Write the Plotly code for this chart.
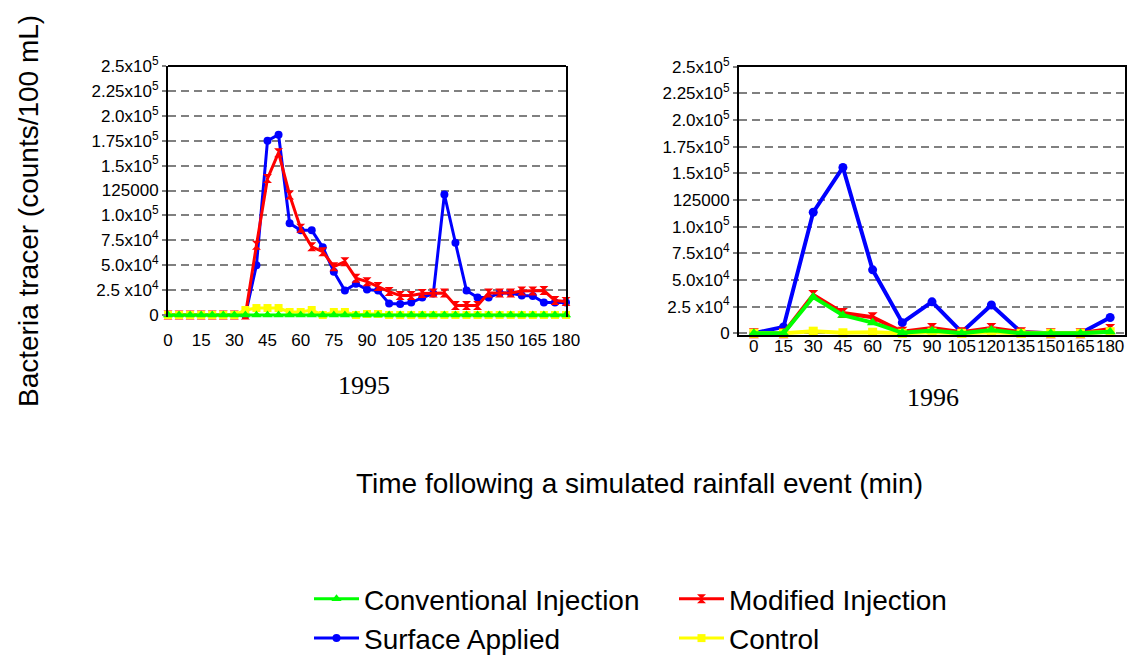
import plotly.graph_objects as go

# ---------------- data ----------------
time_1995 = [0, 5, 10, 15, 20, 25, 30, 35, 40, 45, 50, 55, 60, 65, 70, 75, 80, 85, 90,
             95, 100, 105, 110, 115, 120, 125, 130, 135, 140, 145, 150, 155, 160, 165,
             170, 175, 180]
surface_1995 = [0, 0, 0, 0, 0, 0, 0, 0, 50000, 175000, 181000, 92000, 85000, 85000, 68000,
                43500, 24500, 31500, 25500, 24500, 11500, 11000, 12500, 17500, 21500,
                121000, 72500, 24500, 17500, 17500, 22000, 22000, 19500, 19000, 12500,
                12500, 12500]
modified_1995 = [0, 0, 0, 0, 0, 0, 0, 0, 70000, 137000, 163000, 120500, 87000, 68500, 63500,
                 48500, 53500, 37000, 33500, 28500, 23500, 19500, 19500, 21500, 22000,
                 22000, 9500, 9500, 9500, 22000, 22000, 22000, 24000, 24000, 24500, 14500,
                 13500]
control_1995 = [0, 0, 0, 0, 0, 0, 0, 5000, 7000, 7000, 7000, 3000, 3000, 5000, 0, 3000, 3000,
                0, 1000, 1000, 0, 0, 0, 0, 0, 0, 0, 0, 0, 0, 0, 0, 0, 0, 0, 0, 0]
conventional_1995 = [0, 0, 0, 0, 0, 0, 0, 0, 0, 0, 0, 0, 0, 0, 0, 0, 0, 0, 0, 0, 0, 0, 0, 0,
                     0, 0, 0, 0, 0, 0, 0, 0, 0, 0, 0, 0, 0]

time_1996 = [0, 15, 30, 45, 60, 75, 90, 105, 120, 135, 150, 165, 180]
surface_1996 = [0, 6000, 113500, 155500, 59500, 10000, 29500, 1000, 26500, 1000, 0, 0, 14800]
modified_1996 = [0, 0, 36000, 19000, 15000, 1500, 5000, 1000, 5000, 1000, 0, 0, 4000]
control_1996 = [0, 0, 2000, 500, 1000, 0, 1000, 0, 1000, 0, 0, 0, 1500]
conventional_1996 = [0, 0, 34000, 17000, 10000, 500, 2500, 0, 3000, 0, 0, 0, 1500]

x_ticks = [0, 15, 30, 45, 60, 75, 90, 105, 120, 135, 150, 165, 180]
y_ticks = [0, 25000, 50000, 75000, 100000, 125000, 150000, 175000, 200000, 225000, 250000]
y_tick_labels = ["0", "2.5 x10<sup>4</sup>", "5.0x10<sup>4</sup>", "7.5x10<sup>4</sup>",
                 "1.0x10<sup>5</sup>", "125000", "1.5x10<sup>5</sup>", "1.75x10<sup>5</sup>",
                 "2.0x10<sup>5</sup>", "2.25x10<sup>5</sup>", "2.5x10<sup>5</sup>"]

# ---------------- styles ----------------
BLUE, RED, YELLOW, GREEN = "#0000FF", "#FF0000", "#FFFF00", "#00FF00"
FONT = "Liberation Sans, Arial, sans-serif"

series = [
    # name, colour, symbol, size, legendrank, data1995, data1996
    ("Surface Applied", BLUE, "circle", 8, 3, surface_1995, surface_1996),
    ("Modified Injection", RED, "hourglass", 9, 2, modified_1995, modified_1996),
    ("Control", YELLOW, "square", 8, 4, control_1995, control_1996),
    ("Conventional Injection", GREEN, "triangle-up", 9, 1, conventional_1995, conventional_1996),
]

fig = go.Figure()
for name, col, sym, size, rank, d95, d96 in series:
    fig.add_trace(go.Scatter(
        x=time_1995, y=d95, name=name, mode="lines+markers", cliponaxis=False,
        line=dict(color=col, width=3), marker=dict(color=col, symbol=sym, size=size),
        xaxis="x", yaxis="y", legendrank=rank, showlegend=True))
for name, col, sym, size, rank, d95, d96 in series:
    fig.add_trace(go.Scatter(
        x=time_1996, y=d96, name=name, mode="lines+markers", cliponaxis=False,
        line=dict(color=col, width=4), marker=dict(color=col, symbol=sym, size=size + 1),
        xaxis="x2", yaxis="y2", showlegend=False))

W, H, ML = 1129, 660, 100
PW = W - ML


def px(x):
    return (x - ML) / PW


def py(y):
    return 1 - y / H


yaxis_common = dict(
    tickmode="array", tickvals=y_ticks, ticktext=y_tick_labels,
    showgrid=True, gridcolor="#808080", gridwidth=2, griddash="8px,5px",
    zeroline=False, showline=True, linecolor="black", linewidth=2, mirror=True,
    ticks="outside", ticklen=4, tickwidth=2, tickcolor="#808080", automargin=False,
    tickfont=dict(family=FONT, size=17, color="black"),
)
xaxis_common = dict(
    tickmode="array", tickvals=x_ticks, showgrid=False, zeroline=False, tickangle=0,
    automargin=False, tickfont=dict(family=FONT, size=17, color="black"),
)

# small extension below zero so the zero-level lines are not clipped
LOW1, LOW2 = -2500, -2000
left_bottom = 315 + 2500 / 250000 * 249
right_bottom = 333.3 + 2000 / 250000 * 266.6

ann_font = dict(family=FONT, size=28, color="black")
year_font = dict(family="Liberation Serif, Times New Roman, serif", size=26, color="black")

fig.update_layout(
    width=W, height=H, margin=dict(l=ML, r=0, t=0, b=0, autoexpand=False),
    paper_bgcolor="white", plot_bgcolor="white",
    xaxis=dict(domain=[px(168), px(566)], range=[0, 180], anchor="y", showline=False,
               ticks="outside", ticklen=7, tickcolor="rgba(0,0,0,0)", **xaxis_common),
    yaxis=dict(domain=[py(left_bottom), py(66)], range=[LOW1, 250000], anchor="x",
               **yaxis_common),
    xaxis2=dict(domain=[px(739), px(1125)], range=[-7.5, 187.5], anchor="y2",
                showline=True, linecolor="black", linewidth=2, mirror=True,
                ticks="", ticklabelstandoff=-6, **xaxis_common),
    yaxis2=dict(domain=[py(right_bottom), py(66.7)], range=[LOW2, 250000], anchor="x2",
                **yaxis_common),
    shapes=[dict(type="line", xref="x domain", yref="y domain", x0=0, x1=1, y0=1, y1=1,
                 line=dict(color="black", width=2))],
    legend=dict(orientation="h", x=px(309), xanchor="left", y=py(574), yanchor="top",
                entrywidth=305, itemwidth=45, font=dict(family=FONT, size=28, color="black"),
                bgcolor="rgba(0,0,0,0)", tracegroupgap=0),
    annotations=[
        dict(text="Bacteria tracer (counts/100 mL)", x=px(28), y=py(211), xref="paper",
             yref="paper", showarrow=False, textangle=-90, xanchor="center",
             yanchor="middle", font=ann_font),
        dict(text="Time following a simulated rainfall event (min)", x=px(639), y=py(483),
             xref="paper", yref="paper", showarrow=False, xanchor="center",
             yanchor="middle", font=ann_font),
        dict(text="1995", x=px(364), y=py(385), xref="paper", yref="paper", showarrow=False,
             xanchor="center", yanchor="middle", font=year_font),
        dict(text="1996", x=px(933), y=py(397), xref="paper", yref="paper", showarrow=False,
             xanchor="center", yanchor="middle", font=year_font),
    ],
)

fig.write_html("out.html")
